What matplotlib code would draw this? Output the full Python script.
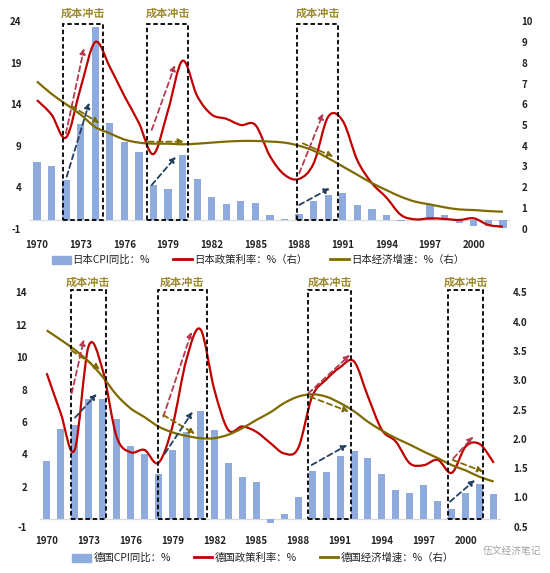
import numpy as np
import matplotlib
matplotlib.use("Agg")
import matplotlib.pyplot as plt
from matplotlib.path import Path
from matplotlib.patches import PathPatch, Rectangle, Patch
from matplotlib.lines import Line2D

plt.rcParams['font.family'] = ['Noto Sans CJK SC', 'DejaVu Sans']

years = list(range(1970, 2003))
tick_years = list(range(1970, 2001, 3))

# Japan (top panel)
jp_cpi = [7.1, 6.5, 4.9, 11.6, 23.3, 11.8, 9.4, 8.2, 4.3, 3.8, 7.9, 5.0, 2.8, 2.0, 2.3, 2.1,
          0.7, 0.2, 0.8, 2.3, 3.1, 3.3, 1.8, 1.4, 0.7, -0.1, 0.1, 1.8, 0.7, -0.3, -0.7, -0.7, -0.9]
jp_rate = [6.2, 5.5, 4.4, 6.8, 9.0, 7.8, 6.4, 5.1, 3.6, 5.7, 8.1, 6.4, 5.5, 5.3, 5.0, 5.0,
           3.5, 2.6, 2.4, 3.15, 5.4, 5.2, 3.3, 2.2, 1.5, 0.66, 0.45, 0.5, 0.47, 0.42, 0.5, 0.18, 0.1]
jp_gdp = [7.1, 6.5, 6.0, 5.5, 4.9, 4.6, 4.3, 4.15, 4.1, 4.1, 4.07, 4.1, 4.15, 4.2, 4.23, 4.23,
          4.2, 4.15, 4.0, 3.76, 3.4, 3.0, 2.6, 2.2, 1.86, 1.54, 1.3, 1.17, 1.03, 0.93, 0.9, 0.85, 0.82]

# Germany (bottom panel)
de_cpi = [3.6, 5.55, 5.8, 7.4, 7.4, 6.2, 4.5, 4.0, 2.8, 4.3, 5.4, 6.7, 5.5, 3.5, 2.6, 2.3,
          -0.2, 0.35, 1.4, 3.0, 2.9, 3.9, 4.2, 3.8, 2.8, 1.8, 1.6, 2.1, 1.1, 0.65, 1.6, 2.15, 1.55]
de_rate = [3.12, 2.44, 1.81, 3.58, 3.18, 2.04, 1.77, 1.81, 1.59, 2.21, 3.35, 3.87, 2.84, 2.15, 2.21, 2.12,
           1.93, 1.75, 1.84, 2.72, 3.01, 3.22, 3.32, 2.72, 2.15, 1.95, 1.58, 1.55, 1.64, 1.42, 1.87, 1.91, 1.59]
de_gdp = [3.85, 3.69, 3.52, 3.32, 3.06, 2.75, 2.52, 2.37, 2.21, 2.11, 2.05, 2.01, 2.01, 2.07, 2.18, 2.32,
          2.45, 2.61, 2.72, 2.76, 2.72, 2.61, 2.47, 2.29, 2.14, 2.01, 1.90, 1.78, 1.67, 1.55, 1.46, 1.35, 1.27]

# cost-shock boxes (year span, top on left axis)
jp_boxes = [(1971.77, 1974.53), (1977.56, 1980.37), (1987.84, 1990.7)]
de_boxes = [(1971.74, 1974.24), (1977.94, 1981.45), (1988.73, 1991.78), (1998.75, 2001.25)]

# dashed arrows: (x0, y0, x1, y1) in left-axis units
jp_arrows = {
    'rate': [(1971.99, 10.5, 1973.23, 20.75), (1977.88, 10.9, 1979.48, 18.73), (1988.01, 5.68, 1989.66, 12.91)],
    'cpi': [(1972.04, 5.27, 1973.59, 14.19), (1977.88, 4.27, 1979.55, 7.68), (1988.01, 1.86, 1990.12, 3.87)],
    'gdp': [(1972.38, 13.79, 1974.28, 11.7), (1977.64, 9.49, 1980.1, 9.49), (1988.25, 9.29, 1990.35, 7.68)],
}
de_arrows = {
    'rate': [(1971.79, 7.77, 1972.67, 11.1), (1978.35, 6.33, 1980.38, 11.57),
             (1988.73, 7.77, 1991.71, 10.14), (1999.11, 3.76, 2000.54, 5.1)],
    'cpi': [(1972.03, 6.27, 1973.58, 7.73), (1978.47, 4.07, 1980.45, 6.64),
            (1988.97, 3.35, 1991.52, 4.58), (1998.87, 1.09, 2000.66, 2.42)],
    'gdp': [(1971.79, 10.4, 1973.82, 9.25), (1978.35, 6.43, 1980.62, 5.26),
            (1988.85, 7.56, 1991.64, 6.64), (1999.06, 3.66, 2001.25, 2.94)],
}

BAR = '#8FAADC'
RED = '#C00000'
OLIVE = '#7F6A00'
GOLD = '#9C8A2E'
ARROW_COLORS = {'rate': '#B83A52', 'cpi': '#243F60', 'gdp': '#7F6A00'}
TICK_FONT = dict(fontsize=7, fontweight='bold', color='#222222')


def smooth_path(x, y):
    """Excel-like smoothed line as cubic Bezier through the points."""
    pts = np.column_stack([x, y]).astype(float)
    n = len(pts)
    verts = [pts[0]]
    codes = [Path.MOVETO]
    for i in range(n - 1):
        p0 = pts[i - 1] if i > 0 else pts[i]
        p1, p2 = pts[i], pts[i + 1]
        p3 = pts[i + 2] if i + 2 < n else pts[i + 1]
        verts += [p1 + (p2 - p0) / 6, p2 - (p3 - p1) / 6, p2]
        codes += [Path.CURVE4] * 3
    return Path(verts, codes)


def draw_panel(rect, cpi, rate, gdp, ylim_l, yticks_l, ylabels_l, ylim_r, yticks_r, rfmt,
               boxes, box_top, arrows, labels, legend_y, legend_x, xpad, lpad, rpad, label_off):
    ax = fig.add_axes(rect)
    ax2 = ax.twinx()
    ax.bar(years, cpi, width=0.5, color=BAR, zorder=2)
    ax.axhline(0, color='#d9d9d9', lw=0.9, zorder=1)
    ax.set_xlim(1969.5, 2002.5)
    ax.set_ylim(*ylim_l)
    ax.set_yticks(yticks_l)
    ax.set_yticklabels(ylabels_l, **TICK_FONT)
    ax.set_xticks(tick_years)
    ax.set_xticklabels([str(y) for y in tick_years], **TICK_FONT)
    ax.tick_params(axis='x', length=0, pad=xpad)
    ax.tick_params(axis='y', length=0, pad=lpad)

    ax2.add_patch(PathPatch(smooth_path(years, rate), fill=False, ec=RED, lw=1.6, zorder=3))
    ax2.add_patch(PathPatch(smooth_path(years, gdp), fill=False, ec=OLIVE, lw=1.6, zorder=3))
    ax2.set_ylim(*ylim_r)
    ax2.set_yticks(yticks_r)
    ax2.set_yticklabels([rfmt.format(v) for v in yticks_r], **TICK_FONT)
    ax2.tick_params(axis='y', length=0, pad=rpad)
    for a in (ax, ax2):
        for s in a.spines.values():
            s.set_visible(False)

    for x0, x1 in boxes:
        ax2.add_patch(Rectangle((x0, 0), x1 - x0, box_top, transform=ax.transData, fill=False,
                                ec='black', lw=1.3, ls=(0, (2.5, 1.5)), zorder=5, clip_on=False))
        ax2.annotate('成本冲击', xy=((x0 + x1) / 2, box_top), xycoords=ax.transData,
                     xytext=(0, label_off), textcoords='offset points', ha='center', va='bottom',
                     fontsize=8, fontweight='bold', color=GOLD, annotation_clip=False)

    for key, segs in arrows.items():
        for x0, y0, x1, y1 in segs:
            ax2.annotate('', xy=(x1, y1), xytext=(x0, y0), xycoords=ax.transData,
                         textcoords=ax.transData,
                         arrowprops=dict(arrowstyle='-|>', color=ARROW_COLORS[key], lw=1.3,
                                         ls=(0, (3, 2)), mutation_scale=8, shrinkA=0, shrinkB=0),
                         zorder=6)

    handles = [Patch(color=BAR), Line2D([], [], color=RED, lw=2), Line2D([], [], color=OLIVE, lw=2)]
    fig.legend(handles, labels, loc='center', bbox_to_anchor=(legend_x, legend_y), ncol=3,
               frameon=False, fontsize=7.5, handlelength=1.8, handleheight=0.8,
               handletextpad=0.2, columnspacing=2.2, labelcolor='#222222')
    return ax, ax2


W, H = 550, 573
fig = plt.figure(figsize=(W / 100, H / 100), dpi=100)

draw_panel([29.7 / W, 1 - 228.7 / H, 480.5 / W, 207.4 / H], jp_cpi, jp_rate, jp_gdp,
           (-1, 24), [-1, 4, 9, 14, 19, 24], ['-1', '4', '9', '14', '19', '24'],
           (0, 10), list(range(0, 11)), '{:.0f}',
           jp_boxes, 23.67, jp_arrows,
           ['日本CPI同比：%', '日本政策利率：%（右）', '日本经济增速：%（右）'],
           1 - 260 / H, 258 / W, 8, 6, 8, 3)

de_bottom = -0.455
draw_panel([39.7 / W, 1 - 526.7 / H, 461 / W, 234.4 / H], de_cpi, de_rate, de_gdp,
           (de_bottom, 14), [de_bottom, 2, 4, 6, 8, 10, 12, 14],
           ['-1', '2', '4', '6', '8', '10', '12', '14'],
           (0.5, 4.5), list(np.arange(0.5, 4.51, 0.5)), '{:.1f}',
           de_boxes, 14.15, de_arrows,
           ['德国CPI同比：%', '德国政策利率：%', '德国经济增速：%（右）'],
           1 - 558 / H, 263 / W, 7, 9, 9, 1)

fig.text(512 / W, 1 - 551 / H, '伍文经济笔记', ha='center', va='center', fontsize=7,
         color='#8c8c8c', alpha=0.8)

fig.savefig('out.png', dpi=100, facecolor='white')
